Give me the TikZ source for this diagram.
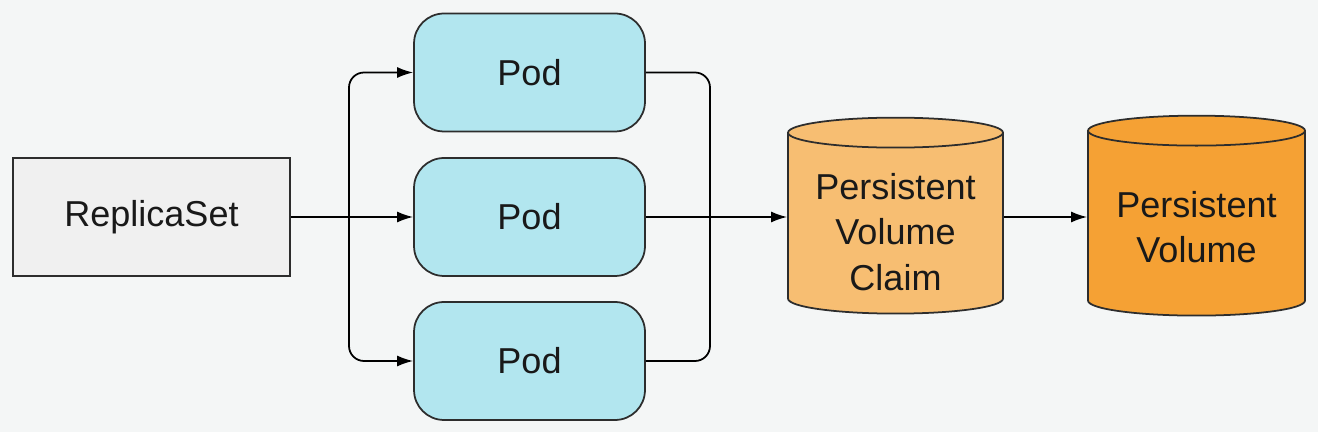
\documentclass[tikz,border=0pt]{standalone}
\usepackage{fontspec}
\setmainfont{Liberation Sans}
\usepackage{tikz}
\usetikzlibrary{shapes.geometric,arrows.meta,positioning,calc}

\definecolor{bggray}{RGB}{244,246,246}
\definecolor{rsfill}{RGB}{240,240,240}
\definecolor{podfill}{RGB}{178,230,239}
\definecolor{pvcfill}{RGB}{247,190,114}
\definecolor{pvfill}{RGB}{245,161,52}
\definecolor{edgegray}{RGB}{45,45,45}

\begin{document}
\begin{tikzpicture}[x=0.02cm, y=0.02cm, >={Latex[length=0.32cm, width=0.22cm]}, line width=1pt,
    every node/.style={font=\fontsize{20.5}{26}\selectfont, text=black!90, line width=1pt},
    rsbox/.style={rectangle, draw=edgegray, fill=rsfill, minimum width=5.54cm, minimum height=2.36cm},
    podbox/.style={rectangle, draw=edgegray, rounded corners=0.6cm, fill=podfill, minimum width=4.62cm, minimum height=2.36cm},
    store/.style={cylinder, draw=edgegray, shape border rotate=90, text width=3.4cm, aspect=0.165},
    storetext/.style={align=center}]
    \fill[bggray] (0,0) rectangle (1318,432);
    \useasboundingbox (0,0) rectangle (1318,432);

    \node[rsbox] (rs) at (151.5, 215) {ReplicaSet};
    \node[podbox] (pod1) at (529.5, 359.5) {Pod};
    \node[podbox] (pod2) at (529.5, 215) {Pod};
    \node[podbox] (pod3) at (529.5, 71) {Pod};

    % volumes
    \node[store, fill=pvcfill, minimum width=4.3cm, minimum height=3.92cm] (pvc) at (895.5, 206) {};
    \node[store, fill=pvfill, minimum width=4.34cm, minimum height=4.0cm] (pv) at (1196.5, 206) {};
    \node[storetext] (pvctext) at ($(pvc.center)+(0,-6)$) {Persistent\\Volume\\Claim};
    \node[storetext] (pvtext) at ($(pv.center)+(0,-1)$) {Persistent\\Volume};

    \coordinate (split) at (349, 215);
    \coordinate (merge) at (710, 215);

    \draw[->] (rs) -- (pod2);
    \draw[->, rounded corners=0.3cm] (split) |- (pod1);
    \draw[->, rounded corners=0.3cm] (split) |- (pod3);
    \draw[rounded corners=0.3cm] (pod1.east) -| (merge);
    \draw[rounded corners=0.3cm] (pod3.east) -| (merge);
    \draw[->] (pod2.east) -- (pod2.east -| pvc.west);
    \draw[->] (pvc.east |- pod2.east) -- (pv.west |- pod2.east);
\end{tikzpicture}
\end{document}
